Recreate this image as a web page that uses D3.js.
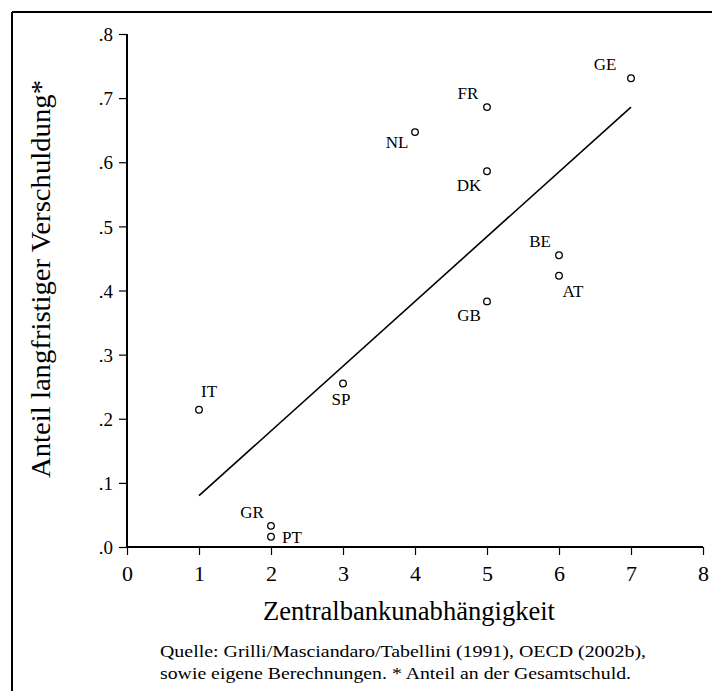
<!DOCTYPE html>
<html>
<head>
<meta charset="utf-8">
<script src="https://cdn.jsdelivr.net/npm/d3@7"></script>
<style>
  html, body { margin: 0; padding: 0; background: #fff; }
  svg { display: block; }
  text { font-family: "Liberation Serif", "Times New Roman", serif; fill: #000; }
</style>
</head>
<body>
<svg id="chart" width="712" height="691"></svg>
<script>
// Countries, central bank independence index and share of long-term debt
const countries = ["GE", "FR", "NL", "DK", "BE", "AT", "GB", "SP", "IT", "GR", "PT"];
const independence = [7, 5, 4, 5, 6, 6, 5, 3, 1, 2, 2];
const longTermShare = [0.731, 0.686, 0.647, 0.586, 0.455, 0.423, 0.383, 0.255, 0.214, 0.033, 0.016];

// Fitted line endpoints
const fitX = [1, 7];
const fitY = [0.08, 0.686];

// Axis ticks
const xTicks = [0, 1, 2, 3, 4, 5, 6, 7, 8];
const yTicks = [0, 0.1, 0.2, 0.3, 0.4, 0.5, 0.6, 0.7, 0.8];
const yTickLabels = [".0", ".1", ".2", ".3", ".4", ".5", ".6", ".7", ".8"];

// Where each country label sits relative to its point
const labelSide = ["nw2", "nw", "w", "sw", "nw", "se", "sw", "s", "ne", "nw", "e"];
const sideOffset = {
  nw: [-19, -14], nw2: [-26, -14], w: [-18, 10], sw: [-18, 14], se: [14, 15],
  s: [-2, 16], ne: [10, -19], e: [21, 0]
};

const svg = d3.select("#chart");

// Frame (top and left rules)
svg.append("line").attr("x1", 12).attr("y1", 12).attr("x2", 712).attr("y2", 12)
  .attr("stroke", "#000").attr("stroke-width", 2);
svg.append("line").attr("x1", 12).attr("y1", 12).attr("x2", 12).attr("y2", 691)
  .attr("stroke", "#000").attr("stroke-width", 2);

const x = d3.scaleLinear().domain([0, 8]).range([127, 703]);
const y = d3.scaleLinear().domain([0, 0.8]).range([547, 34]);

// Y axis
const yAxis = svg.append("g")
  .attr("transform", `translate(${x(0)},0)`)
  .call(d3.axisLeft(y).tickValues(yTicks).tickSize(8).tickPadding(6)
    .tickFormat((d, i) => yTickLabels[i]));
yAxis.select(".domain").attr("stroke-width", 2).attr("d", `M0,${y(0.8)}V${y(0)}`);
yAxis.selectAll(".tick line").attr("stroke-width", 1.2);
yAxis.selectAll(".tick text").attr("font-size", 19).attr("dy", "0.35em")
  .style("font-family", "'Liberation Serif', serif");

// X axis
const xAxis = svg.append("g")
  .attr("transform", `translate(0,${y(0)})`)
  .call(d3.axisBottom(x).tickValues(xTicks).tickSize(8).tickPadding(10)
    .tickFormat(d3.format("d")));
xAxis.select(".domain").attr("stroke-width", 2).attr("d", `M${x(0)},0H${x(8)}`);
xAxis.selectAll(".tick line").attr("stroke-width", 1.2);
xAxis.selectAll(".tick text").attr("font-size", 22)
  .style("font-family", "'Liberation Serif', serif");

// Fitted line
svg.append("path")
  .datum(fitX.map((v, i) => [v, fitY[i]]))
  .attr("fill", "none").attr("stroke", "#000").attr("stroke-width", 1.6)
  .attr("d", d3.line().x(d => x(d[0])).y(d => y(d[1])));

// Points
const pts = countries.map((c, i) => ({ c, xv: independence[i], yv: longTermShare[i], side: labelSide[i] }));
svg.append("g").selectAll("circle").data(pts).join("circle")
  .attr("cx", d => x(d.xv)).attr("cy", d => y(d.yv)).attr("r", 3.3)
  .attr("fill", "#fff").attr("stroke", "#000").attr("stroke-width", 1.3);

svg.append("g").selectAll("text").data(pts).join("text")
  .attr("x", d => x(d.xv) + sideOffset[d.side][0])
  .attr("y", d => y(d.yv) + sideOffset[d.side][1])
  .attr("text-anchor", "middle").attr("dy", "0.35em")
  .attr("font-size", 17)
  .text(d => d.c);

// Axis titles
svg.append("text")
  .attr("transform", "translate(50,279) rotate(-90)")
  .attr("text-anchor", "middle").attr("font-size", 27)
  .attr("textLength", 398).attr("lengthAdjust", "spacingAndGlyphs")
  .text("Anteil langfristiger Verschuldung*");

svg.append("text")
  .attr("x", 409).attr("y", 620)
  .attr("text-anchor", "middle").attr("font-size", 27)
  .attr("textLength", 292).attr("lengthAdjust", "spacingAndGlyphs")
  .text("Zentralbankunabhängigkeit");

// Source note
svg.append("text").attr("x", 160).attr("y", 657).attr("font-size", 17)
  .attr("textLength", 486).attr("lengthAdjust", "spacingAndGlyphs")
  .text("Quelle: Grilli/Masciandaro/Tabellini (1991), OECD (2002b),");
svg.append("text").attr("x", 160).attr("y", 679).attr("font-size", 17)
  .attr("textLength", 471).attr("lengthAdjust", "spacingAndGlyphs")
  .text("sowie eigene Berechnungen. * Anteil an der Gesamtschuld.");
</script>
</body>
</html>
